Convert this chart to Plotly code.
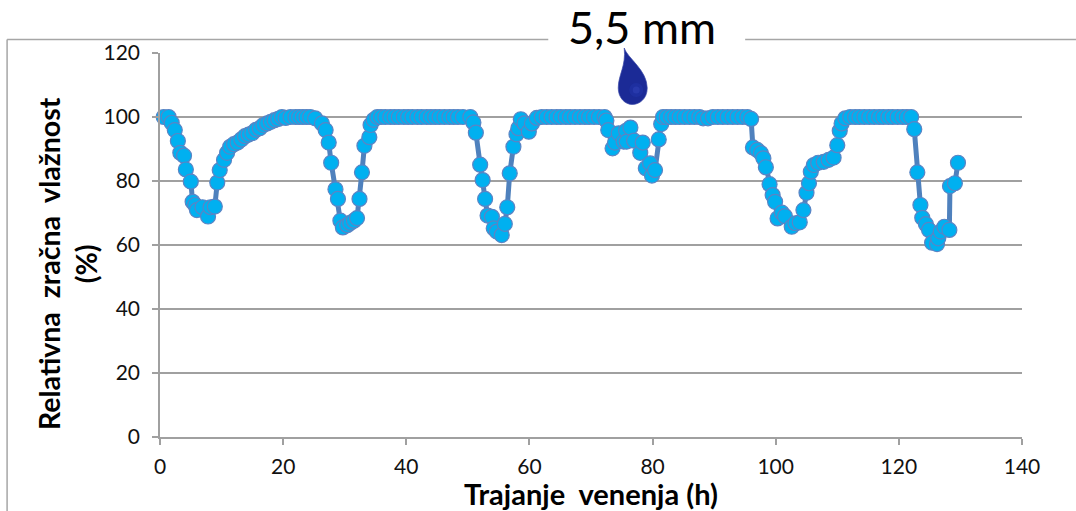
import plotly.graph_objects as go

time_h = [
    0.6, 1.4, 1.9, 2.4, 2.9, 3.3, 3.9, 4.2, 5.0, 5.3, 5.7, 6.0, 6.9, 7.8, 8.2, 8.9, 9.3, 9.7, 10.4, 10.9,
    11.4, 12.0, 12.6, 13.2, 13.8, 14.4, 15.0, 15.6, 16.2, 16.8, 17.4, 18.0, 18.6, 19.2, 19.8, 20.4, 21.2, 22.0,
    22.6, 23.2, 23.8, 24.4, 25.2, 26.3, 26.9, 27.4, 27.8, 28.5, 28.9, 29.3, 29.7, 30.4, 30.9, 31.5, 32.0, 32.4,
    32.8, 33.2, 34.0, 34.2, 34.7, 35.3, 35.9, 36.6, 37.4, 38.1, 38.8, 39.6, 40.3, 41.0, 41.8, 42.5, 43.3, 44.0,
    44.7, 45.4, 46.2, 47.0, 47.7, 48.4, 49.2, 50.4, 50.9, 51.3, 52.0, 52.4, 52.8, 53.2, 53.9, 54.2, 54.7, 55.5,
    56.0, 56.4, 56.8, 57.4, 57.9, 58.2, 58.6, 59.2, 59.9, 60.4, 61.2, 62.0, 62.8, 63.6, 64.4, 65.1, 65.9, 66.6,
    67.4, 68.2, 69.0, 69.7, 70.5, 71.3, 72.2, 72.5, 72.8, 73.5, 73.9, 74.5, 75.3, 75.7, 75.8, 76.4, 77.0, 78.0,
    78.4, 78.9, 79.6, 79.9, 80.4, 81.0, 81.4, 81.7, 82.3, 83.0, 83.7, 84.4, 85.2, 86.0, 86.8, 87.6, 88.2, 89.0,
    89.8, 90.6, 91.4, 92.2, 93.0, 93.8, 94.6, 95.4, 96.0, 96.3, 97.0, 97.6, 98.0, 98.4, 99.0, 99.5, 99.9, 100.3,
    101.0, 101.5, 102.6, 103.2, 103.9, 104.5, 105.0, 105.4, 105.7, 106.2, 106.9, 107.8, 108.6, 109.4, 110.0,
    110.4, 110.7, 111.3, 112.1, 112.9, 113.6, 114.4, 115.2, 116.0, 116.8, 117.5, 118.3, 119.0, 119.8, 120.6,
    121.3, 122.0, 122.5, 123.0, 123.5, 123.8, 124.4, 124.9, 125.4, 126.2, 126.4, 126.8, 127.4, 128.2, 128.3,
    129.1, 129.6,
]
humidity_pct = [
    100.0, 100.0, 98.2, 95.9, 92.5, 88.8, 87.9, 83.6, 79.8, 73.5, 72.5, 70.9, 71.8, 68.9, 71.8, 72.0, 79.5, 83.4, 86.6, 88.8,
    90.7, 91.5, 92.0, 93.0, 94.0, 94.5, 95.0, 96.0, 96.5, 97.5, 98.0, 98.5, 99.0, 99.4, 100.0, 99.7, 100.0, 100.0,
    100.0, 100.0, 100.0, 100.0, 99.6, 98.0, 95.9, 92.0, 85.7, 77.4, 74.4, 67.6, 65.5, 66.2, 66.9, 67.6, 68.4, 74.4,
    82.7, 91.0, 93.7, 97.5, 99.1, 100.0, 100.0, 100.0, 100.0, 100.0, 100.0, 100.0, 100.0, 100.0, 100.0, 100.0, 100.0, 100.0,
    100.0, 100.0, 100.0, 100.0, 100.0, 100.0, 100.0, 100.0, 98.3, 95.1, 85.1, 80.3, 74.4, 69.2, 68.8, 65.2, 64.2, 63.1,
    66.6, 71.8, 82.4, 90.7, 94.6, 96.5, 99.3, 98.0, 95.4, 98.0, 99.7, 100.0, 100.0, 100.0, 100.0, 100.0, 100.0, 100.0,
    100.0, 100.0, 100.0, 100.0, 100.0, 100.0, 100.0, 98.9, 95.9, 90.2, 92.0, 94.9, 92.3, 95.7, 92.3, 96.7, 92.6, 88.8,
    92.0, 84.0, 85.5, 81.7, 83.4, 93.0, 97.8, 100.0, 100.0, 100.0, 100.0, 100.0, 100.0, 100.0, 100.0, 100.0, 99.6, 99.6,
    100.0, 100.0, 100.0, 100.0, 100.0, 100.0, 100.0, 100.0, 99.4, 90.5, 89.7, 88.7, 87.1, 84.3, 79.0, 75.6, 73.5, 68.3,
    70.1, 69.0, 65.7, 66.8, 67.1, 70.9, 76.3, 79.3, 82.9, 85.0, 85.7, 86.0, 86.6, 87.3, 91.2,
    95.7, 98.0, 99.6, 100.0, 100.0, 100.0, 100.0, 100.0, 100.0, 100.0, 100.0, 100.0, 100.0, 100.0, 100.0,
    100.0, 100.0, 96.2, 82.7, 72.5, 68.5, 66.5, 64.7, 60.7, 60.3, 62.1, 64.2, 65.7, 64.7, 78.4,
    79.3, 85.7,
]
x_ticks = [0, 20, 40, 60, 80, 100, 120, 140]
y_ticks = [0, 20, 40, 60, 80, 100, 120]
x_title = "Trajanje  venenja (h)"
y_title = "Relativna  zračna  vlažnost<br>(%)"
drop_label = "5,5 mm"

W, H = 1076, 511
L, R, T, B = 159.5, 1022.0, 53.0, 437.0


def px(x):
    return (x - L) / (R - L)


def py(y):
    return (B - y) / (B - T)


def path(*cmds):
    out = []
    for c in cmds:
        if isinstance(c, str):
            out.append(c)
        else:
            out.append(f"{px(c[0]):.5f},{py(c[1]):.5f}")
    return " ".join(out)


def pline(x0, y0, x1, y1, color="#a6a6a6", width=1.5):
    return dict(type="line", xref="paper", yref="paper", x0=px(x0), y0=py(y0), x1=px(x1), y1=py(y1),
                line=dict(color=color, width=width), layer="above")


def circle(cx, cy, r, color, opacity=1.0):
    return dict(type="circle", xref="paper", yref="paper", x0=px(cx - r), x1=px(cx + r), y0=py(cy + r), y1=py(cy - r),
                fillcolor=color, opacity=opacity, line=dict(width=0), layer="above")


drop = path("M", (624, 48), "C", (627, 58), (647, 70), (647, 88), "C", (647, 99), (639, 104.5), (632, 104.5),
            "C", (625, 104.5), (618, 98), (618, 88), "C", (618, 75), (626, 66), (624, 48), "Z")

shapes = [
    dict(type="rect", xref="paper", yref="paper", x0=px(548), x1=px(745), y0=py(62), y1=py(0),
         fillcolor="white", line=dict(width=0), layer="above"),
    pline(6.5, 39.5, 548, 39.5),
    pline(745, 39.5, 1076, 39.5),
    pline(6.5, 39.5, 6.5, 511),
    dict(type="path", path=drop, xref="paper", yref="paper", fillcolor="#1b2a96",
         line=dict(color="#3a47a8", width=0.7), layer="above"),
    circle(636, 90, 7, "#2233a6", 0.6),
    circle(636, 90, 3.5, "#2f41b4", 0.6),
]

fig = go.Figure(
    go.Scatter(
        x=time_h,
        y=humidity_pct,
        mode="lines+markers",
        line=dict(color="#4f81bd", width=5),
        marker=dict(size=15, color="#00b0f0", line=dict(color="#5b84c4", width=1.2)),
        cliponaxis=False,
        showlegend=False,
    )
)
axis_style = dict(
    showline=True, linecolor="#a0a0a0", linewidth=1.5,
    ticks="outside", ticklen=6, tickcolor="#a0a0a0", tickwidth=1.5,
    tickfont=dict(family="Lato", size=21, color="#111111"),
    zeroline=False,
)
fig.update_xaxes(range=[0, 140], tickvals=x_ticks, showgrid=False, ticklabelstandoff=4, **axis_style,
                 title=dict(text=x_title, font=dict(family="Lato", size=29, color="#000000", weight="bold"), standoff=4))
fig.update_yaxes(range=[0, 120], tickvals=y_ticks, showgrid=True, gridcolor="#a0a0a0", gridwidth=1.5,
                 ticklabelstandoff=8, **axis_style)
fig.update_layout(
    width=W, height=H,
    margin=dict(l=L, r=W - R, t=T, b=H - B, pad=0, autoexpand=False),
    paper_bgcolor="white", plot_bgcolor="white",
    shapes=shapes,
    annotations=[
        dict(text=drop_label, xref="paper", yref="paper", x=px(642), y=py(27), xanchor="center", yanchor="middle",
             showarrow=False, font=dict(family="Lato", size=45, color="#000000")),
        dict(text=y_title, xref="paper", yref="paper", x=px(66.5), y=py(264), xanchor="center", yanchor="middle",
             textangle=-90, showarrow=False, font=dict(family="Lato", size=28.5, color="#000000", weight="bold")),
    ],
)
fig.write_html("out.html", config=dict(displayModeBar=False), post_script="document.body.style.margin='0';")
